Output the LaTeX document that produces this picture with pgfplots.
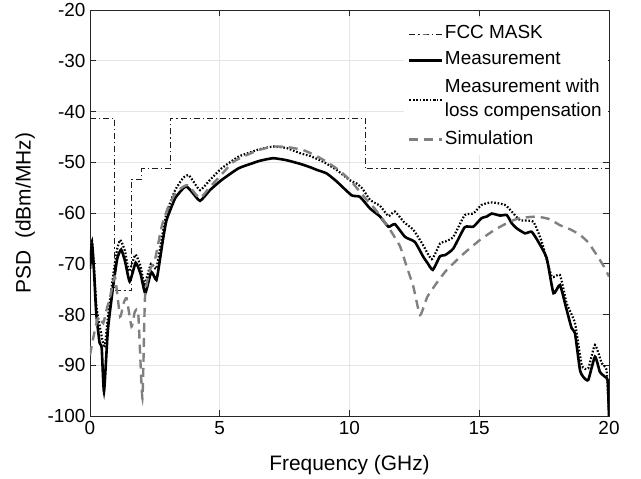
\documentclass[border=0pt]{standalone}
\usepackage{fontspec}
\setmainfont{Liberation Sans}
\usepackage{pgfplots}
\pgfplotsset{compat=1.18}
\definecolor{axgray}{gray}{0.15}
\definecolor{simgray}{gray}{0.5}
\definecolor{gridgray}{gray}{0.9}
\begin{document}
\begin{tikzpicture}
\begin{axis}[
  scale only axis,
  width=519bp, height=406bp,
  xmin=0, xmax=20, ymin=-100, ymax=-20,
  xtick={0,5,10,15,20},
  xticklabels={0,5,10,15,20},
  ytick={-100,-90,-80,-70,-60,-50,-40,-30,-20},
  yticklabels={-100,-90,-80,-70,-60,-50,-40,-30,-20},
  tick align=inside, tick pos=both,
  major tick length=6bp,
  every tick/.style={axgray, line width=0.6bp},
  axis line style={axgray, line width=0.8bp},
  grid=major,
  major grid style={gridgray, line width=0.8bp},
  font=\fontsize{19}{23}\selectfont,
  tick label style={font=\fontsize{19}{23}\selectfont, text=black},
  xticklabel style={yshift=-2bp},
  yticklabel style={xshift=-1bp},
  every axis x label/.style={at={(axis description cs:0.5,-0.121)}, anchor=center},
  every axis y label/.style={at={(axis description cs:-0.125,0.5)}, rotate=90, anchor=center},
  label style={font=\fontsize{21}{25}\selectfont},
  xlabel={Frequency (GHz)},
  ylabel={PSD\ \ (dBm/MHz)},
  legend cell align=left,
  legend style={at={(rel axis cs:0.998,0.978)}, anchor=north east, draw=none, fill=white,
    font=\fontsize{19}{25}\selectfont, row sep=5bp, inner sep=4bp,
    cells={align=left}, nodes={text depth=4.5bp}},
  legend image post style={xscale=1.9},
  clip=true,
]
\addplot[axgray!80!black, line width=1bp, dash pattern=on 6bp off 3bp on 1.2bp off 3bp] coordinates {
(0,-41.3) (0.96,-41.3) (0.96,-75.3) (1.61,-75.3) (1.61,-53.3) (1.99,-53.3) (1.99,-51.3)
(3.1,-51.3) (3.1,-41.3) (10.6,-41.3) (10.6,-51.3) (20,-51.3)};
\addlegendentry{FCC MASK}

\addplot[black, line width=2.6bp, smooth, tension=0.3] coordinates {
(0,-71) (0.08,-66.3) (0.16,-72) (0.24,-79.7) (0.37,-85.6) (0.45,-86.5) (0.54,-95.2)
(0.69,-83) (0.89,-74.5) (1.05,-69) (1.2,-67.2) (1.35,-69.5) (1.53,-73.5) (1.76,-69.8)
(1.95,-72) (2.13,-75.8) (2.36,-71.6) (2.56,-73.2) (2.7,-69) (2.81,-65.3) (2.95,-61.4)
(3.28,-57.1) (3.6,-55.1) (3.73,-54.8) (3.92,-55.8) (4.24,-57.6) (4.62,-55.5) (5.07,-53.5)
(5.72,-51.2) (6.2,-50.3) (6.55,-49.7) (7.06,-49.2) (7.58,-49.6) (8.09,-50.3) (8.5,-51)
(8.74,-51.5) (9.12,-52.2) (9.51,-53.8) (10.08,-56.5) (10.4,-56.8) (10.79,-59.1) (11.18,-60.7)
(11.5,-62.7) (11.75,-62.2) (12.14,-64.7) (12.52,-65.7) (12.84,-68.6) (13.0,-69.8) (13.21,-71.2)
(13.49,-68.5) (13.68,-68.3) (14.0,-67.0) (14.44,-62.8) (14.77,-62.7) (15.09,-61.0) (15.29,-60.7)
(15.48,-60.1) (15.8,-60.5) (16.06,-60.4) (16.25,-62.0) (16.44,-63.0) (16.76,-64.0) (17.02,-63.7)
(17.28,-65.7) (17.6,-68.9) (17.86,-75.8) (18.11,-74.2) (18.37,-79.1) (18.56,-82.7) (18.69,-83.7)
(18.88,-90.9) (19.01,-92.3) (19.2,-92.9) (19.46,-88.3) (19.65,-91.3) (19.85,-92.3) (19.95,-93)
(20,-100)};
\addlegendentry{Measurement}

\addplot[black, line width=2.2bp, dash pattern=on 1.6bp off 1.8bp, smooth, tension=0.3] coordinates {
(0,-69) (0.08,-65.5) (0.16,-71) (0.25,-78.5) (0.4,-83) (0.56,-86.5) (0.7,-80) (0.9,-72)
(1.05,-67) (1.17,-65.3) (1.35,-67.5) (1.5,-71.5) (1.75,-68.2) (1.95,-70.5) (2.1,-74)
(2.35,-70) (2.55,-71) (2.7,-67) (2.8,-64) (2.95,-60) (3.28,-55.5) (3.6,-53) (3.79,-52.5)
(3.95,-53.5) (4.24,-55.5) (4.62,-53.5) (5.07,-51.2) (5.72,-48.9) (6.2,-48) (6.55,-47.4)
(7.06,-46.9) (7.58,-47.2) (8.09,-48.2) (8.5,-48.8) (8.99,-49.9) (9.5,-51.5) (10.0,-53.5)
(10.28,-54.2) (10.5,-55.2) (10.79,-57.4) (11.18,-58.6) (11.5,-60.6) (11.75,-59.7) (12.1,-61.8)
(12.46,-63.3) (12.8,-66) (13.17,-69.1) (13.49,-66) (13.7,-65.6) (14.0,-64.7) (14.44,-60.4)
(14.77,-60.1) (15.09,-58.4) (15.48,-57.9) (15.99,-58.4) (16.25,-59.7) (16.57,-61.4) (17.08,-61.7)
(17.41,-65.7) (17.79,-72.5) (18.11,-72.2) (18.37,-77.8) (18.69,-81.7) (18.95,-90) (19.2,-90.6)
(19.46,-86) (19.72,-89.6) (19.91,-91) (20,-100)};
\addlegendentry{Measurement with\\loss compensation}

\addplot[simgray, line width=2.4bp, dash pattern=on 9bp off 6bp, smooth, tension=0.3] coordinates {
(0,-88) (0.15,-84) (0.32,-80.4) (0.51,-81.7) (0.64,-79) (0.8,-76) (0.96,-72.5) (1.16,-80.4)
(1.28,-78) (1.41,-76.8) (1.6,-82.4) (1.73,-79.4) (1.86,-79.8) (2.02,-96.5) (2.12,-76.5)
(2.31,-71.2) (2.5,-69.3) (2.76,-62.7) (3.0,-59) (3.3,-56) (3.6,-54.8) (3.75,-54.5)
(3.95,-55.5) (4.24,-57.1) (4.6,-55) (5.0,-52.8) (5.5,-50) (5.9,-48.9) (6.5,-47.6)
(7.06,-46.9) (7.6,-47) (8.22,-47.6) (8.7,-48.7) (9.12,-49.9) (9.6,-51.6) (10.02,-53.5)
(10.4,-55.8) (10.66,-57.4) (11.0,-59.3) (11.3,-61.4) (11.6,-63.6) (11.95,-66.6) (12.2,-70.5)
(12.46,-74.5) (12.72,-80.1) (13.0,-76.5) (13.4,-73.5) (13.75,-71.2) (14.4,-68) (15.03,-65.3)
(15.6,-63.3) (16.18,-61.7) (16.57,-61) (17.21,-60.7) (17.7,-61.2) (18.11,-62.4) (18.5,-63.2)
(18.88,-64.3) (19.2,-65.8) (19.53,-68.3) (19.8,-70.5) (20,-72.5)};
\addlegendentry{Simulation}
\end{axis}
\path ([shift={(-90bp,-61bp)}]current axis.south west) rectangle ([shift={(32bp,10bp)}]current axis.north east);
\end{tikzpicture}
\end{document}
